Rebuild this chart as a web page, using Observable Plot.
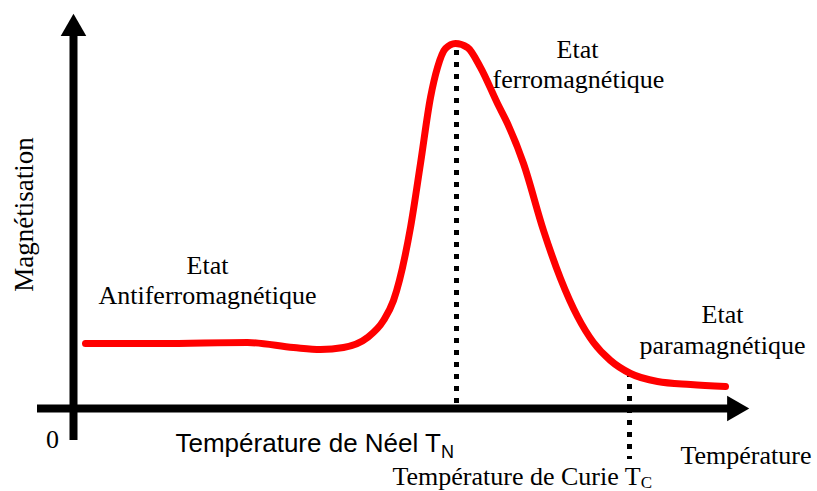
<!DOCTYPE html>
<html>
<head>
<meta charset="utf-8">
<script src="https://cdn.jsdelivr.net/npm/d3@7"></script>
<script src="https://cdn.jsdelivr.net/npm/@observablehq/plot@0.6"></script>
<style>
  html, body { margin: 0; padding: 0; background: #fff; overflow: hidden; }
</style>
</head>
<body>
<div id="chart"></div>
<script>
// ---- Data (schematic units: temperature T, magnetisation M) ----
const curveT = [12, 87, 174, 220, 247, 270, 294, 310, 320, 337, 347, 357, 364, 372, 382, 394, 407, 424, 434, 450, 470, 487, 504, 520, 537, 557, 584, 617, 652];
const curveM = [65, 65, 66, 61, 59, 61, 71, 88, 108, 181, 245, 311, 341, 360, 365, 361, 341, 305, 285, 245, 178, 130, 92, 66, 48, 35, 27, 24, 22];

// Transition temperatures (Néel, Curie) and the span of their dotted markers
const transitionNames = ["Néel", "Curie"];
const transitionT = [383, 556];
const transitionTop = [358, 36];
const transitionBottom = [5, -51];

// Axis spans
const tAxis = [-36, 657];
const mAxis = [-32, 375];

// State labels
const stateText = ["Etat", "Antiferromagnétique", "Etat", "ferromagnétique", "Etat", "paramagnétique"];
const stateT = [134, 134, 504, 505, 649, 649];
const stateM = [135, 105, 351, 321, 86, 55];

// Axis labels
const neelLabel = "Température de Néel T";
const curieLabel = "Température de Curie T";
const tLabel = "Température";
const mLabel = "Magnétisation";
const originLabel = "0";

// ---- Tables ----
const curve = curveT.map((t, i) => ({t, m: curveM[i]}));
const transitions = transitionNames.map((name, i) => ({name, t: transitionT[i], top: transitionTop[i], bottom: transitionBottom[i]}));
const states = stateText.map((text, i) => ({text, t: stateT[i], m: stateM[i]}));

const serif = "'Liberation Serif', 'Times New Roman', serif";
const sans = "'Liberation Sans', Arial, sans-serif";

const svg = Plot.plot({
  width: 817,
  height: 491,
  margin: 0,
  x: {domain: [-73, 744], axis: null},
  y: {domain: [-83, 408], axis: null},
  style: {background: "white", overflow: "visible"},
  marks: [
    // Axes
    Plot.ruleY([0], {x1: tAxis[0], x2: tAxis[1], stroke: "black", strokeWidth: 8}),
    Plot.ruleX([0], {y1: mAxis[0], y2: mAxis[1], stroke: "black", strokeWidth: 8}),
    Plot.dot([{t: tAxis[1], m: 0}], {x: "t", y: "m", symbol: "triangle", r: 9.5, fill: "black", stroke: null, rotate: 90, dx: 4}),
    Plot.dot([{t: 0, m: mAxis[1]}], {x: "t", y: "m", symbol: "triangle", r: 9.5, fill: "black", stroke: null, dy: -5}),
    // Dotted transition markers
    Plot.ruleX(transitions, {x: "t", y1: "top", y2: "bottom", stroke: "black", strokeWidth: 5, strokeDasharray: "5,7"}),
    // Magnetisation curve
    Plot.line(curve, {x: "t", y: "m", stroke: "#ff0000", strokeWidth: 7, curve: "monotone-x"}),
    // State labels
    Plot.text(states, {x: "t", y: "m", text: "text", textAnchor: "middle", lineAnchor: "bottom", fontFamily: serif, fontSize: 26, fill: "black"}),
    // Axis labels
    Plot.text([tLabel], {x: [607], y: [-55], text: d => d, textAnchor: "start", lineAnchor: "bottom", fontFamily: serif, fontSize: 26, fill: "black"}),
    Plot.text([curieLabel], {x: [319], y: [-76], text: d => d, textAnchor: "start", lineAnchor: "bottom", fontFamily: serif, fontSize: 26, fill: "black"}),
    Plot.text([neelLabel], {x: [102], y: [-43], text: d => d, textAnchor: "start", lineAnchor: "bottom", fontFamily: sans, fontSize: 26, fill: "black"}),
    Plot.text([originLabel], {x: [-21], y: [-39], text: d => d, textAnchor: "middle", lineAnchor: "bottom", fontFamily: serif, fontSize: 26, fill: "black"}),
    Plot.text([mLabel], {x: [-41], y: [194], text: d => d, textAnchor: "middle", lineAnchor: "bottom", rotate: -90, fontFamily: serif, fontSize: 27, fill: "black"})
  ]
});

// Subscripts
d3.select(svg).selectAll("text").each(function() {
  const t = this.textContent;
  if (t === neelLabel) {
    d3.select(this).append("tspan").attr("dy", 6).attr("font-size", 18).text("N");
  } else if (t === curieLabel) {
    d3.select(this).append("tspan").attr("dy", 3).attr("font-size", 17).text("C");
  }
});

document.getElementById("chart").appendChild(svg);
</script>
</body>
</html>
